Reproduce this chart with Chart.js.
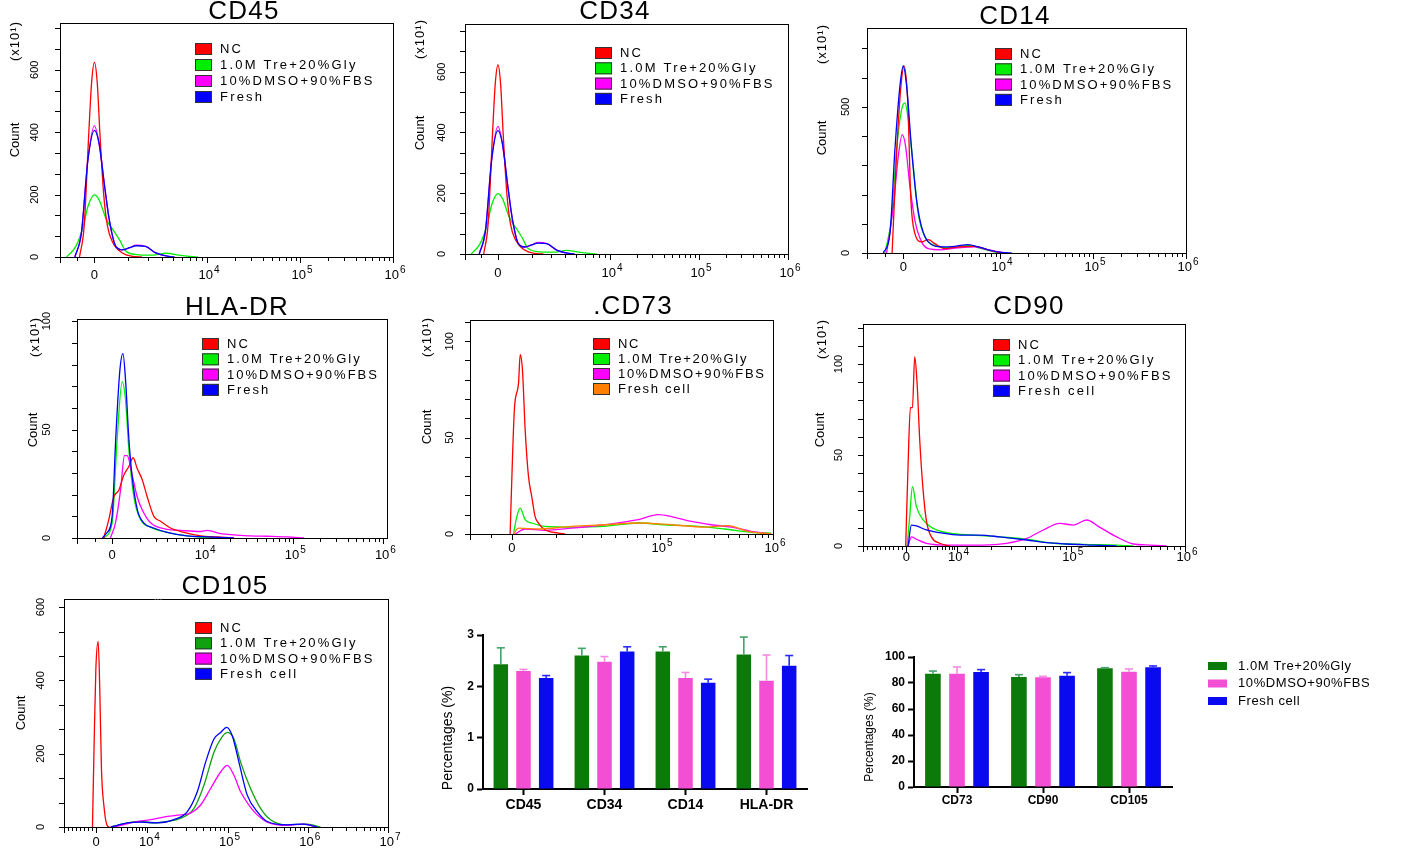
<!DOCTYPE html>
<html>
<head>
<meta charset="utf-8">
<script src="https://cdn.jsdelivr.net/npm/chart.js@4.4.1/dist/chart.umd.min.js"></script>
<style>
  body { margin: 0; background: #fff; width: 1418px; height: 850px; position: relative; overflow: hidden; }
</style>
</head>
<body>
<script>
// ---- histogram curves: [position on the fluorescence axis (decades), count (x10)] ----
const cd45NC = [[2.63,0],[2.68,100],[2.73,400],[2.76,560],[2.79,624],[2.82,560],[2.85,390],[2.89,200],[2.93,100],[2.99,45],[3.09,13],[3.20,2],[3.30,0]];
const cd45Tre = [[2.49,0],[2.59,34],[2.67,98],[2.72,162],[2.79,199],[2.84,183],[2.92,119],[2.99,87],[3.06,55],[3.13,18],[3.27,7],[3.42,6],[3.56,12],[3.70,6],[3.84,1],[3.90,0]];
const cd45DMSO = [[2.58,0],[2.65,77],[2.72,311],[2.79,420],[2.84,364],[2.90,226],[2.95,119],[3.02,34],[3.09,23],[3.17,30],[3.24,38],[3.34,34],[3.45,13],[3.59,2],[3.65,0]];
const cd45Fresh = [[2.58,0],[2.65,77],[2.72,311],[2.79,406],[2.84,364],[2.90,226],[2.95,119],[3.02,34],[3.09,23],[3.17,30],[3.24,36],[3.34,34],[3.45,13],[3.59,2],[3.65,0]];

const cd34NC = [[2.58,0],[2.63,100],[2.68,400],[2.71,560],[2.74,622],[2.77,560],[2.80,390],[2.84,200],[2.88,100],[2.94,45],[3.04,13],[3.15,2],[3.25,0]];
const cd34Tre = [[2.44,0],[2.54,34],[2.62,98],[2.67,162],[2.74,199],[2.79,183],[2.87,119],[2.94,87],[3.01,55],[3.08,18],[3.22,7],[3.37,6],[3.51,12],[3.65,6],[3.79,1],[3.85,0]];
const cd34DMSO = [[2.53,0],[2.60,77],[2.67,311],[2.74,420],[2.79,364],[2.85,226],[2.90,119],[2.97,34],[3.04,23],[3.12,30],[3.19,38],[3.29,34],[3.40,13],[3.54,2],[3.60,0]];
const cd34Fresh = [[2.53,0],[2.60,77],[2.67,311],[2.74,406],[2.79,364],[2.85,226],[2.90,119],[2.97,34],[3.04,23],[3.12,30],[3.19,36],[3.29,34],[3.40,13],[3.54,2],[3.60,0]];

const cd14NC = [[2.84,0],[2.89,353],[2.935,571],[2.967,640],[3.007,525],[3.042,181],[3.085,67],[3.157,38],[3.229,46],[3.30,32],[3.408,15],[3.551,21],[3.731,23],[3.874,11],[4.017,0]];
const cd14Tre = [[2.763,0],[2.835,124],[2.888,353],[2.942,491],[2.978,514],[3.014,456],[3.068,296],[3.121,135],[3.193,55],[3.30,26],[3.48,18],[3.659,26],[3.802,15],[3.946,3],[4.053,0]];
const cd14DMSO = [[2.781,0],[2.853,158],[2.906,330],[2.949,405],[2.985,365],[3.032,227],[3.085,112],[3.157,38],[3.229,15],[3.372,11],[3.551,18],[3.731,21],[3.874,11],[4.017,2],[4.089,0]];
const cd14Fresh = [[2.745,0],[2.817,67],[2.87,353],[2.924,571],[2.96,640],[2.996,571],[3.05,353],[3.103,181],[3.157,89],[3.229,38],[3.372,21],[3.516,23],[3.659,29],[3.766,21],[3.874,11],[4.017,2],[4.125,0]];

const hlaNC = [[2.897,0],[2.953,8.5],[3.009,19],[3.064,22],[3.12,29],[3.175,33],[3.223,37],[3.268,32],[3.323,27],[3.379,19],[3.453,10],[3.527,7.7],[3.638,4.6],[3.786,2.6],[3.971,1],[4.157,0.5],[4.342,0]];
const hlaTre = [[2.897,0],[2.99,7],[3.046,46],[3.101,72],[3.138,64],[3.175,41],[3.231,19],[3.305,8.5],[3.416,5],[3.601,2.6],[3.823,1],[4.157,0]];
const hlaDMSO = [[2.971,0],[3.027,7],[3.083,22],[3.127,38],[3.157,38],[3.212,29],[3.268,19],[3.323,13],[3.416,7],[3.601,4],[3.749,3.5],[3.971,3],[4.046,3.5],[4.194,2],[4.527,1],[4.712,0.8],[4.934,0.5],[5.12,0]];
const hlaFresh = [[2.88,0],[2.93,2.3],[2.99,10],[3.03,46],[3.075,77],[3.11,85],[3.14,72],[3.175,46],[3.21,29],[3.27,13],[3.34,7],[3.45,4.6],[3.60,2.6],[3.82,1],[4.05,0.5],[4.34,0]];

const cd73NC = [[3.675,0],[3.696,40],[3.714,66],[3.749,78],[3.764,93],[3.784,85],[3.808,54],[3.837,30],[3.866,19.5],[3.896,9],[3.925,5.7],[3.984,2.2],[4.102,0.5],[4.161,0]];
const cd73Tre = [[3.705,0],[3.734,9],[3.764,13.4],[3.808,7.4],[3.866,5.7],[3.984,4],[4.219,3.6],[4.514,4],[4.808,5.7],[5.043,4.8],[5.337,4],[5.572,2.6],[5.808,0.9],[5.984,0.5]];
const cd73DMSO = [[3.719,0],[3.808,2.6],[3.984,1.9],[4.219,3],[4.514,4.8],[4.808,7.4],[4.984,10],[5.102,9],[5.278,6.5],[5.455,4.8],[5.631,3.6],[5.808,1.4],[5.984,0]];
const cd73Fresh = [[3.705,0],[3.749,3],[3.925,2.6],[4.219,4],[4.514,4.8],[4.808,5.7],[5.102,4.8],[5.396,3.6],[5.602,4.3],[5.778,1.4],[5.984,0]];

const cd90NC = [[3.554,0],[3.575,45],[3.595,76],[3.613,76],[3.633,104],[3.654,89],[3.677,58],[3.706,31],[3.735,14],[3.779,5],[3.852,1.5],[3.94,0]];
const cd90Tre = [[3.566,0],[3.589,16],[3.613,32.6],[3.648,21.6],[3.706,14.3],[3.794,9.7],[3.94,7],[4.145,6],[4.379,5],[4.613,3.7],[4.847,1.5],[5.11,0.9],[5.402,0.5],[5.548,0]];
const cd90DMSO = [[3.575,0],[3.604,5],[3.648,3.7],[3.735,1.5],[3.94,0.5],[4.232,0.5],[4.437,1.5],[4.613,4.2],[4.759,8.8],[4.905,12.4],[5.022,11.5],[5.139,14.3],[5.256,10.2],[5.402,5],[5.548,1.1],[5.694,0.5],[5.84,0]];
const cd90Fresh = [[3.575,0],[3.604,11.5],[3.648,11],[3.735,8.8],[3.852,7.3],[4.028,6],[4.203,6],[4.379,5],[4.613,3.3],[4.788,1.8],[4.964,1.1],[5.197,0.5],[5.402,0]];

const cd105NC = [[3.315,0],[3.336,231],[3.357,429],[3.386,506],[3.407,366],[3.427,159],[3.461,51],[3.494,6],[3.523,0]];
const cd105Tre = [[3.544,0],[3.751,11],[3.917,15],[4.083,11],[4.249,15],[4.415,24],[4.581,51],[4.705,114],[4.83,204],[4.913,240],[4.996,258],[5.079,240],[5.162,177],[5.286,105],[5.411,51],[5.535,20],[5.743,6],[5.992,8],[6.158,0]];
const cd105DMSO = [[3.585,0],[3.834,13.5],[4.041,20],[4.249,29],[4.415,33],[4.539,38],[4.664,60],[4.788,105],[4.913,150],[4.996,168],[5.079,141],[5.162,96],[5.266,60],[5.369,33],[5.494,13.5],[5.743,4.5],[5.95,8],[6.116,0]];
const cd105Fresh = [[3.544,0],[3.751,11],[3.917,13.5],[4.124,11],[4.332,20],[4.498,42],[4.622,96],[4.726,177],[4.83,240],[4.913,258],[4.988,272],[5.058,249],[5.141,177],[5.245,87],[5.369,42],[5.494,15],[5.743,6],[5.95,8],[6.116,0]];

const histNames = ["NC", "1.0M Tre+20%Gly", "10%DMSO+90%FBS", "Fresh"];
const histNamesCell = ["NC", "1.0M Tre+20%Gly", "10%DMSO+90%FBS", "Fresh cell"];

// ---- bar charts: mean percentage and SD ----
const barNames = ["1.0M Tre+20%Gly", "10%DMSO+90%FBS", "Fresh cell"];
const negMarkers = ["CD45", "CD34", "CD14", "HLA-DR"];
const negTre = [2.43, 2.60, 2.68, 2.62];
const negDMSO = [2.30, 2.48, 2.16, 2.11];
const negFresh = [2.16, 2.68, 2.07, 2.40];
const negTreSd = [0.32, 0.14, 0.09, 0.34];
const negDMSOSd = [0.03, 0.10, 0.11, 0.50];
const negFreshSd = [0.05, 0.09, 0.07, 0.20];

const posMarkers = ["CD73", "CD90", "CD105"];
const posTre = [87.2, 84.6, 91.3];
const posDMSO = [87.2, 84.4, 88.7];
const posFresh = [88.5, 85.6, 92.1];
const posTreSd = [2.0, 1.8, 0.5];
const posDMSOSd = [5.1, 0.7, 2.1];
const posFreshSd = [1.8, 2.4, 1.0];

// ---------------------------------------------------------------
const FONT = '"Liberation Sans", Arial, sans-serif';
Chart.defaults.font.family = FONT;
Chart.defaults.color = '#000';

const M = {l: 60, t: 28, r: 22, b: 34};

function addCanvas(x, y, w, h) {
  const c = document.createElement('canvas');
  c.width = w; c.height = h;
  c.style.cssText = 'position:absolute;left:' + x + 'px;top:' + y + 'px;width:' + w + 'px;height:' + h + 'px';
  document.body.appendChild(c);
  return c;
}

function drawText(ctx, s, x, y, font, rot, spacing, align, color) {
  ctx.save();
  ctx.translate(x, y);
  if (rot) ctx.rotate(rot);
  ctx.font = font;
  ctx.letterSpacing = (spacing || 0) + 'px';
  ctx.textAlign = align || 'center';
  ctx.textBaseline = 'middle';
  ctx.fillStyle = color || '#000';
  ctx.fillText(s, 0, 0);
  ctx.restore();
}

function line(ctx, x1, y1, x2, y2) {
  ctx.beginPath(); ctx.moveTo(x1, y1); ctx.lineTo(x2, y2); ctx.stroke();
}

// "10" with a raised exponent, centred on x
function drawPow(ctx, exp, x, y) {
  ctx.save();
  ctx.fillStyle = '#000';
  ctx.textBaseline = 'middle';
  ctx.textAlign = 'left';
  ctx.font = '13px ' + FONT;
  const w1 = ctx.measureText('10').width;
  ctx.font = '10px ' + FONT;
  const w2 = ctx.measureText(String(exp)).width;
  const x0 = x - (w1 + w2 + 1) / 2;
  ctx.font = '13px ' + FONT;
  ctx.fillText('10', x0, y);
  ctx.font = '10px ' + FONT;
  ctx.fillText(String(exp), x0 + w1 + 1, y - 5);
  ctx.restore();
}

// axis ticks of the flow cytometry scale
function xTickList(p) {
  const out = [];
  for (let i = 0; i < p.leftTicks; i++) {
    out.push({v: p.xmin + (p.z0 - p.xmin) * i / p.leftTicks, label: null, major: i === 0});
  }
  out.push({v: p.z0, label: 0, major: true});
  const first = p.decades[0];
  for (let k = 2; k <= 9; k++) out.push({v: p.z0 + (first - p.z0) * Math.log10(k), label: null, major: false});
  p.decades.forEach((d, j) => {
    out.push({v: d, label: d, major: true});
    if (j < p.decades.length - 1) {
      for (let k = 2; k <= 9; k++) out.push({v: d + Math.log10(k), label: null, major: false});
    }
  });
  return out;
}

const panelDecor = {
  id: 'panelDecor',
  afterDraw(chart, args, o) {
    const {ctx, chartArea: a, scales} = chart;
    ctx.save();
    ctx.strokeStyle = '#000';
    ctx.lineWidth = 1;
    ctx.strokeRect(a.left + 0.5, a.top + 0.5, a.right - a.left, a.bottom - a.top);
    scales.x.ticks.forEach((t, i) => {
      const px = scales.x.getPixelForValue(t.value);
      const x = Math.round(px) + 0.5;
      line(ctx, x, a.bottom, x, a.bottom + (o.xt[i].major ? 6 : 4));
      const lab = o.xt[i].label;
      if (lab === 0) drawText(ctx, '0', px, a.bottom + o.xgap, '13px ' + FONT);
      else if (lab) drawPow(ctx, lab, px + 2, a.bottom + o.xgap);
    });
    scales.y.ticks.forEach((t) => {
      const y = Math.round(scales.y.getPixelForValue(t.value)) + 0.5;
      line(ctx, a.left - 5, y, a.left, y);
    });
    const L = a.left, T = a.top;
    drawText(ctx, o.title, L + o.titlePos[0], T + o.titlePos[1], '26px ' + FONT, 0, 1.2);
    drawText(ctx, 'Count', L + o.countPos[0], T + o.countPos[1], '13px ' + FONT, -Math.PI / 2);
    if (o.notePos) drawText(ctx, '(x10\u00B9)', L + o.notePos[0], T + o.notePos[1], '13px ' + FONT, -Math.PI / 2, 1);
    if (o.dotsPos) drawText(ctx, '...', L + o.dotsPos[0], T + o.dotsPos[1], '10px ' + FONT, 0, 0, 'center', '#777');
    chart.data.datasets.forEach((ds, i) => {
      const bx = L + o.legendPos[0], by = T + o.legendPos[1] + i * o.rowH;
      ctx.fillStyle = ds.borderColor;
      ctx.fillRect(bx, by, 17, 12);
      ctx.strokeStyle = '#333';
      ctx.strokeRect(bx + 0.5, by + 0.5, 16, 11);
      drawText(ctx, ds.label, bx + 25, by + 6.5, '13px ' + FONT, 0, o.spacing, 'left');
    });
    ctx.restore();
  }
};

function histChart(p) {
  const w = p.box[2] - p.box[0] + M.l + M.r;
  const h = p.box[3] - p.box[1] + M.t + M.b;
  const cv = addCanvas(p.box[0] - M.l, p.box[1] - M.t, w, h);
  const xt = xTickList(p);
  const yt = [];
  for (let v = 0; v <= p.ymax + 1e-6; v += p.ystep) yt.push(v);
  const order = [1, 3, 2, 0];
  new Chart(cv, {
    type: 'line',
    data: {
      datasets: p.curves.map((c, i) => ({
        label: p.names[i],
        data: c.map(pt => ({x: pt[0], y: pt[1]})),
        borderColor: p.colors[i],
        borderWidth: 1.3,
        pointRadius: 0,
        cubicInterpolationMode: 'monotone',
        fill: false,
        order: order[i]
      }))
    },
    options: {
      responsive: false,
      animation: false,
      layout: {padding: {top: M.t, right: M.r, left: 0, bottom: 0}},
      plugins: {
        legend: {display: false},
        tooltip: {enabled: false},
        panelDecor: {
          title: p.title, titlePos: p.titlePos, countPos: p.countPos, notePos: p.notePos,
          dotsPos: p.dotsPos, legendPos: p.legendPos, rowH: p.rowH, spacing: p.spacing,
          xt: xt, xgap: p.xgap
        }
      },
      scales: {
        x: {
          type: 'linear', min: p.xmin, max: p.xmax,
          afterBuildTicks: s => { s.ticks = xt.map(t => ({value: t.v})); },
          afterFit: s => { s.height = M.b; },
          grid: {display: false, drawTicks: false},
          border: {display: false},
          ticks: {display: false, autoSkip: false}
        },
        y: {
          min: 0, max: p.ymax,
          afterBuildTicks: s => { s.ticks = yt.map(v => ({value: v})); },
          afterFit: s => { s.width = M.l; },
          grid: {display: false, drawTicks: false},
          border: {display: false},
          ticks: {
            autoSkip: false, minRotation: 90, maxRotation: 90, crossAlign: 'center',
            padding: p.ygap - 9, font: {size: 11}, color: '#000',
            callback: v => (Math.abs(v / p.ylab - Math.round(v / p.ylab)) < 1e-6 ? String(Math.round(v)) : '')
          }
        }
      }
    },
    plugins: [panelDecor]
  });
}

const cA = ['#ff0000', '#00ee00', '#ff00ff', '#0000ff'];
const cB = ['#ff0000', '#00ee00', '#ff00ff', '#ff8000'];
const cC = ['#ff0000', '#10a010', '#ff00ff', '#0000ff'];

const panels = [
  {title: 'CD45', box: [60, 23, 393, 257], xmin: 2.42, xmax: 6, z0: 2.79, decades: [4, 5, 6], leftTicks: 2,
   ymax: 750, ystep: 200 / 3, ylab: 200, ygap: 25, xgap: 18,
   curves: [cd45NC, cd45Tre, cd45DMSO, cd45Fresh], names: histNames, colors: cA,
   titlePos: [184, -11], countPos: [-45, 117], notePos: [-45, 18], legendPos: [135, 20], rowH: 16, spacing: 2.2},
  {title: 'CD34', box: [465, 24, 788, 254], xmin: 2.37, xmax: 6, z0: 2.74, decades: [4, 5, 6], leftTicks: 2,
   ymax: 757, ystep: 200 / 3, ylab: 200, ygap: 23, xgap: 19,
   curves: [cd34NC, cd34Tre, cd34DMSO, cd34Fresh], names: histNames, colors: cA,
   titlePos: [150, -12], countPos: [-45, 109], notePos: [-45, 15], legendPos: [130, 23], rowH: 15.3, spacing: 2.2},
  {title: 'CD14', box: [867, 28, 1186, 253], xmin: 2.57, xmax: 6, z0: 2.96, decades: [4, 5, 6], leftTicks: 2,
   ymax: 770, ystep: 100, ylab: 500, ygap: 21, xgap: 14,
   curves: [cd14NC, cd14Tre, cd14DMSO, cd14Fresh], names: histNames, colors: cA,
   titlePos: [148, -11], countPos: [-45, 110], notePos: [-45, 16], legendPos: [128, 20], rowH: 15.3, spacing: 2.1},
  {title: 'HLA-DR', box: [77, 319, 387, 538], xmin: 2.6, xmax: 6.04, z0: 2.99, decades: [4, 5, 6], leftTicks: 2,
   ymax: 101, ystep: 10, ylab: 50, ygap: 30, xgap: 17,
   curves: [hlaNC, hlaTre, hlaDMSO, hlaFresh], names: histNames, colors: cA,
   titlePos: [160, -11], countPos: [-44, 111], notePos: [-42, 18], legendPos: [125, 19], rowH: 15.3, spacing: 2.0},
  {title: '.CD73', box: [470, 320, 773, 534], xmin: 3.32, xmax: 6, z0: 3.69, decades: [5, 6], leftTicks: 2,
   ymax: 111, ystep: 10, ylab: 50, ygap: 20, xgap: 14,
   curves: [cd73NC, cd73Tre, cd73DMSO, cd73Fresh], names: histNamesCell, colors: cB,
   titlePos: [163, -13], countPos: [-43, 107], notePos: [-43, 17], legendPos: [123, 18], rowH: 15, spacing: 1.7},
  {title: 'CD90', box: [863, 324, 1185, 546], xmin: 3.18, xmax: 6, z0: 3.56, decades: [4, 5, 6], leftTicks: 10,
   ymax: 122, ystep: 10, ylab: 50, ygap: 24, xgap: 11,
   curves: [cd90NC, cd90Tre, cd90DMSO, cd90Fresh], names: histNamesCell, colors: cA,
   titlePos: [166, -17], countPos: [-43, 106], notePos: [-41, 15], legendPos: [130, 15], rowH: 15.3, spacing: 2.2},
  {title: 'CD105', box: [64, 599, 388, 827], xmin: 2.96, xmax: 7, z0: 3.36, decades: [4, 5, 6, 7], leftTicks: 8,
   ymax: 622, ystep: 200 / 3, ylab: 200, ygap: 23, xgap: 15,
   curves: [cd105NC, cd105Tre, cd105DMSO, cd105Fresh], names: histNamesCell, colors: cC,
   titlePos: [161, -12], countPos: [-43, 114], notePos: null, dotsPos: [94, -2], legendPos: [131, 23], rowH: 15.3, spacing: 2.2}
];
panels.forEach(histChart);

// ---- bar charts ----
const barColors = ['#0b7a0b', '#f24fd4', '#0a0af0'];
const errColors = ['#45a36b', '#f48ae0', '#2a2aff'];

const barDecor = {
  id: 'barDecor',
  afterDatasetsDraw(chart) {
    const {ctx, scales: {y}} = chart;
    ctx.save();
    ctx.lineWidth = 1.6;
    chart.data.datasets.forEach((ds, i) => {
      const meta = chart.getDatasetMeta(i);
      ctx.strokeStyle = errColors[i];
      meta.data.forEach((bar, j) => {
        const top = y.getPixelForValue(ds.data[j] + ds.sd[j]);
        line(ctx, bar.x, bar.y, bar.x, top);
        line(ctx, bar.x - 4, top, bar.x + 4, top);
      });
    });
    ctx.restore();
  },
  afterDraw(chart, args, o) {
    const {ctx, chartArea: a} = chart;
    drawText(ctx, 'Percentages (%)', a.left + o.titlePos[0], a.top + o.titlePos[1], o.titleFont, -Math.PI / 2);
    if (o.legend) {
      chart.data.datasets.forEach((ds, i) => {
        const bx = a.right + o.legend[0], cy = a.top + o.legend[1] + i * o.legend[2];
        ctx.fillStyle = ds.backgroundColor;
        ctx.fillRect(bx, cy - 4, 19, 8);
        drawText(ctx, ds.label, bx + 30, cy, '13px ' + FONT, 0, 0.6, 'left');
      });
    }
  }
};

function barChart(p) {
  const cv = addCanvas(p.canvas[0], p.canvas[1], p.canvas[2], p.canvas[3]);
  new Chart(cv, {
    type: 'bar',
    data: {
      labels: p.labels,
      datasets: p.series.map((s, i) => ({
        label: barNames[i], data: s, sd: p.sd[i],
        backgroundColor: barColors[i],
        barPercentage: p.barPct, categoryPercentage: 0.84
      }))
    },
    options: {
      responsive: false,
      animation: false,
      layout: {padding: {top: p.padTop, right: p.padRight, left: 0, bottom: 0}},
      plugins: {
        legend: {display: false},
        tooltip: {enabled: false},
        barDecor: {titlePos: p.titlePos, titleFont: p.titleFont, legend: p.legend}
      },
      scales: {
        x: {
          afterFit: s => { s.height = p.xh; },
          grid: {display: true, drawOnChartArea: false, offset: false, tickLength: 6, tickWidth: 2, tickColor: '#000'},
          border: {color: '#000', width: 2},
          ticks: {font: {size: p.xFont, weight: 'bold'}, color: '#000', padding: p.xPad, maxRotation: 0}
        },
        y: {
          min: 0, max: p.ymax,
          afterFit: s => { s.width = p.yw; },
          grid: {display: true, drawOnChartArea: false, tickLength: 6, tickWidth: 2, tickColor: '#000'},
          border: {color: '#000', width: 2},
          ticks: {stepSize: p.ystep, font: {size: 12, weight: 'bold'}, color: '#000', padding: 3}
        }
      }
    },
    plugins: [barDecor]
  });
}

barChart({
  canvas: [430, 620, 400, 200], yw: 53, xh: 31, padTop: 15, padRight: 23,
  labels: negMarkers, series: [negTre, negDMSO, negFresh], sd: [negTreSd, negDMSOSd, negFreshSd],
  ymax: 3, ystep: 1, barPct: 0.64, xFont: 14, xPad: 2,
  titlePos: [-35, 103], titleFont: '14px ' + FONT, legend: null
});

barChart({
  canvas: [850, 640, 568, 180], yw: 64, xh: 33, padTop: 17, padRight: 246,
  labels: posMarkers, series: [posTre, posDMSO, posFresh], sd: [posTreSd, posDMSOSd, posFreshSd],
  ymax: 100, ystep: 20, barPct: 0.65, xFont: 12, xPad: 0,
  titlePos: [-44, 80], titleFont: '12px ' + FONT, legend: [36, 9, 17.5]
});
</script>
</body>
</html>
